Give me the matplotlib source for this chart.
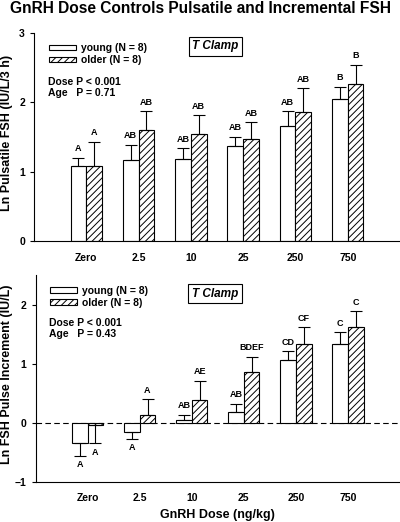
import matplotlib.pyplot as plt
import numpy as np

plt.rcParams['font.family'] = ['Liberation Sans', 'DejaVu Sans']
plt.rcParams['font.weight'] = 'bold'
plt.rcParams['hatch.linewidth'] = 0.7

doses = ["Zero", "2.5", "10", "25", "250", "750"]

# top panel: Ln pulsatile FSH
top_young = [1.08, 1.165, 1.18, 1.365, 1.665, 2.04]
top_young_err = [0.12, 0.225, 0.16, 0.135, 0.205, 0.18]
top_older = [1.09, 1.595, 1.54, 1.475, 1.86, 2.255]
top_older_err = [0.34, 0.275, 0.27, 0.235, 0.34, 0.285]
top_young_lbl = ["A", "AB", "AB", "AB", "AB", "B"]
top_older_lbl = ["A", "AB", "AB", "AB", "AB", "B"]

# bottom panel: Ln FSH pulse increment
bot_young = [-0.335, -0.145, 0.055, 0.195, 1.065, 1.34]
bot_young_err = [0.215, 0.115, 0.085, 0.13, 0.15, 0.2]
bot_older = [-0.035, 0.14, 0.39, 0.87, 1.335, 1.625]
bot_older_err = [0.305, 0.265, 0.325, 0.255, 0.285, 0.265]
bot_young_lbl = ["A", "A", "AB", "AB", "CD", "C"]
bot_older_lbl = ["A", "A", "AE", "BDEF", "CF", "C"]

x = np.arange(len(doses))
w = 0.3

fig = plt.figure(figsize=(4, 5.22), dpi=100)
ax1 = fig.add_axes([0.085, 0.5374, 0.915, 0.4003])
ax2 = fig.add_axes([0.089, 0.076, 0.911, 0.3966])

fig.text(0.5, 0.984, "GnRH Dose Controls Pulsatile and Incremental FSH",
         ha='center', va='center', fontsize=11.2, fontweight='bold')


def draw_panel(ax, young, yerr, older, oerr, ylbl, olbl, box_xy):
    b1 = ax.bar(x - w / 2, young, w, color='white', edgecolor='black', linewidth=0.8,
                label="young (N = 8)")
    b2 = ax.bar(x + w / 2, older, w, color='white', edgecolor='black', linewidth=0.8,
                hatch='/////', label="older (N = 8)")
    for xs, vals, errs, lbls in [(x - w / 2, young, yerr, ylbl), (x + w / 2, older, oerr, olbl)]:
        for xi, v, e, l in zip(xs, vals, errs, lbls):
            s = 1 if v >= 0 else -1
            ax.errorbar(xi, v, yerr=[[0], [e]] if s > 0 else [[e], [0]], fmt='none',
                        ecolor='black', elinewidth=0.8, capsize=4.5, capthick=0.8)
            ax.annotate(l, (xi, v + s * e), xytext=(0, 6.5 * s), textcoords='offset points',
                        ha='center', va='center', fontsize=6.5, fontweight='bold')
    ax.legend(handles=[b1, b2], loc='upper left', bbox_to_anchor=(0.02, 0.985),
              frameon=False, fontsize=7.5, handlelength=2.6, handleheight=0.4,
              handletextpad=0.5, labelspacing=0.2, borderaxespad=0.3)
    ax.text(box_xy[0], box_xy[1], "T Clamp", transform=ax.transAxes, ha='center', va='center',
            fontsize=8.5, fontweight='bold', style='italic',
            bbox=dict(boxstyle='square,pad=0.3', facecolor='white', edgecolor='black', linewidth=0.8))
    for sp in ['top', 'right']:
        ax.spines[sp].set_visible(False)
    ax.set_xlim(-1, 6)
    ax.set_xticks(x)
    ax.set_xticklabels(doses, fontsize=7.5, fontweight='bold')
    ax.tick_params(axis='x', length=0, pad=8)
    ax.tick_params(axis='y', length=3, labelsize=7.5, direction='out')


draw_panel(ax1, top_young, top_young_err, top_older, top_older_err,
           top_young_lbl, top_older_lbl, (0.495, 0.935))
ax1.text(0.038, 0.765, "Dose P < 0.001", transform=ax1.transAxes, fontsize=7.5, fontweight='bold', va='center')
ax1.text(0.038, 0.712, "Age   P = 0.71", transform=ax1.transAxes, fontsize=7.5, fontweight='bold', va='center')
ax1.set_ylim(0, 3)
ax1.set_yticks([0, 1, 2, 3])
ax1.set_ylabel("Ln Pulsatile FSH (IU/L/3 h)", fontsize=9, fontweight='bold')
ax1.yaxis.set_label_coords(-0.058, 0.52)

draw_panel(ax2, bot_young, bot_young_err, bot_older, bot_older_err,
           bot_young_lbl, bot_older_lbl, (0.4925, 0.911))
ax2.text(0.038, 0.768, "Dose P < 0.001", transform=ax2.transAxes, fontsize=7.5, fontweight='bold', va='center')
ax2.text(0.038, 0.716, "Age   P = 0.43", transform=ax2.transAxes, fontsize=7.5, fontweight='bold', va='center')
ax2.set_ylim(-1, 2.5)
ax2.set_yticks([-1, 0, 1, 2])
ax2.axhline(0, color='black', linestyle=(0, (5, 3)), linewidth=0.8, zorder=0)
ax2.set_ylabel("Ln FSH Pulse Increment (IU/L)", fontsize=9, fontweight='bold')
ax2.yaxis.set_label_coords(-0.062, 0.523)
ax2.set_xlabel("GnRH Dose (ng/kg)", fontsize=9, fontweight='bold', labelpad=4)
for t in ax1.get_yticklabels() + ax2.get_yticklabels():
    t.set_fontweight('bold')

fig.savefig("out.png", dpi=100)
